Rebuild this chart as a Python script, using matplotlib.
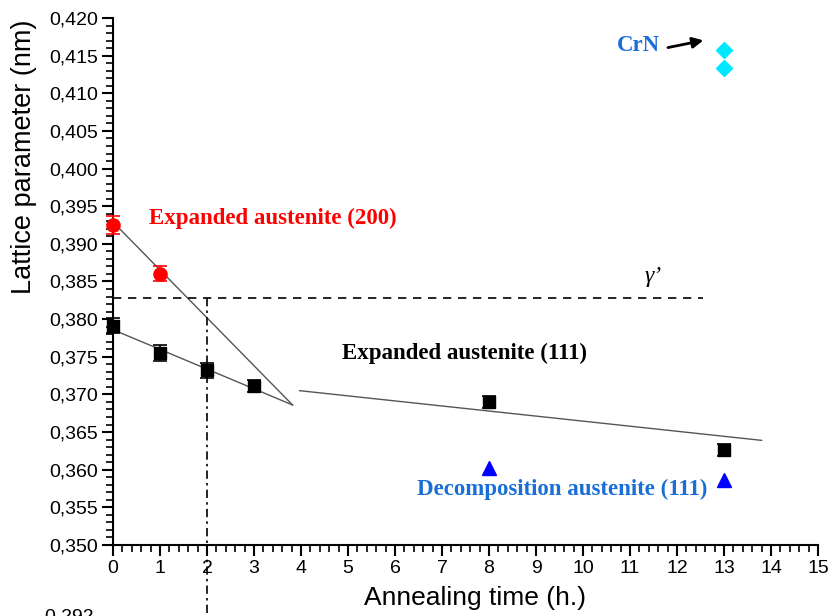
import matplotlib
matplotlib.use("Agg")
import matplotlib.pyplot as plt
from matplotlib.ticker import MultipleLocator, FuncFormatter

# Expanded austenite (200) peak
t_200 = [0, 1]
a_200 = [0.3925, 0.3860]
err_200 = [0.0012, 0.0010]

# Expanded austenite (111) peak
t_111 = [0, 1, 2, 3, 8, 13]
a_111 = [0.3791, 0.3755, 0.3732, 0.3711, 0.3690, 0.3626]
err_111 = [0.0010, 0.0010, 0.0010, 0.0008, 0.0008, 0.0008]

# Decomposed austenite (111)
t_dec = [8, 13]
a_dec = [0.3602, 0.3586]

# CrN reflections
t_crn = [13, 13]
a_crn = [0.4157, 0.4133]

# Trend lines (start/end points)
fit_200_t = [0, 3.82]
fit_200_a = [0.3929, 0.3686]
fit_111a_t = [0, 3.82]
fit_111a_a = [0.3786, 0.3686]
fit_111b_t = [3.97, 13.8]
fit_111b_a = [0.3705, 0.3639]

gamma_prime = 0.3828
t_gamma_end = 12.56
t_cross = 2

x_ticks = list(range(0, 16))

plt.rcParams['font.family'] = ['Liberation Sans', 'DejaVu Sans']

fig = plt.figure(figsize=(8.36, 6.16), dpi=100)
ax = fig.add_axes([113/836, 1 - 545/616, (818 - 113)/836, (545 - 18)/616])

ax.plot(fit_200_t, fit_200_a, color='#555555', lw=1.0, zorder=2)
ax.plot(fit_111a_t, fit_111a_a, color='#555555', lw=1.0, zorder=2)
ax.plot(fit_111b_t, fit_111b_a, color='#555555', lw=1.0, zorder=2)

ax.plot([0, t_gamma_end], [gamma_prime, gamma_prime], color='black', lw=1.2,
        ls=(0, (5, 4)), zorder=2)
ax.plot([t_cross, t_cross], [gamma_prime, 0.3395], color='black', lw=1.2,
        ls=(0, (5, 2.5, 1.5, 2.5)), zorder=2, clip_on=False)

ax.errorbar(t_200, a_200, yerr=err_200, fmt='o', color='#ff0000', ms=9.5,
            capsize=5, elinewidth=1.2, capthick=1.2, zorder=4, clip_on=False)
ax.errorbar(t_111, a_111, yerr=err_111, fmt='s', color='black', ms=8,
            capsize=5, elinewidth=1.2, capthick=1.2, zorder=4, clip_on=False)
ax.plot(t_dec, a_dec, '^', color='#0000ff', ms=10, zorder=4, clip_on=False)
ax.plot(t_crn, a_crn, 'D', color='#00e8ff', ms=8, zorder=4, clip_on=False)

serif = ['Liberation Serif', 'DejaVu Serif']
fs_note = 16.5
ax.text(0.77, 0.3934, 'Expanded austenite (200)', color='#ff0000', fontsize=fs_note,
        fontweight='bold', family=serif, va='center', ha='left')
ax.text(4.88, 0.3754, 'Expanded austenite (111)', color='black', fontsize=fs_note,
        fontweight='bold', family=serif, va='center', ha='left')
ax.text(6.46, 0.3574, 'Decomposition austenite (111)', color='#1a6fd6', fontsize=fs_note,
        fontweight='bold', family=serif, va='center', ha='left')
ax.text(10.72, 0.4163, 'CrN', color='#1a6fd6', fontsize=fs_note,
        fontweight='bold', family=serif, va='center', ha='left')
ax.annotate('', xy=(12.62, 0.4171), xytext=(11.75, 0.4160),
            arrowprops=dict(arrowstyle='-|>', color='black', lw=2.0,
                            mutation_scale=16))
ax.text(11.49, 0.3857, "γ’", color='black', fontsize=17, family=serif,
        style='italic', va='center', ha='center')

ax.set_xlim(0, 15)
ax.set_ylim(0.350, 0.420)
ax.set_xticks(x_ticks)
ax.xaxis.set_minor_locator(MultipleLocator(0.2))
ax.yaxis.set_major_locator(MultipleLocator(0.005))
ax.yaxis.set_minor_locator(MultipleLocator(0.001))
ax.yaxis.set_major_formatter(FuncFormatter(lambda v, p: f"{v:.3f}".replace('.', ',')))

for s in ('top', 'right'):
    ax.spines[s].set_visible(False)
for s in ('left', 'bottom'):
    ax.spines[s].set_linewidth(1.5)

ax.tick_params(which='major', direction='out', length=8, width=1.5,
               labelsize=14, pad=3)
ax.tick_params(which='minor', direction='out', length=5, width=1.2)

ax.set_xlabel('Annealing time (h.)', fontsize=19)
ax.set_ylabel('Lattice parameter (nm)', fontsize=19.5, va='center')
ax.xaxis.set_label_coords((475 - 113) / 705, (545 - 586) / 527)
ax.yaxis.set_label_coords((24 - 113) / 705, (545 - 157) / 527)

fig.text(45/836, -9/616, '0,292 –', fontsize=14, ha='left', va='bottom')

fig.savefig('out.png', dpi=100)
